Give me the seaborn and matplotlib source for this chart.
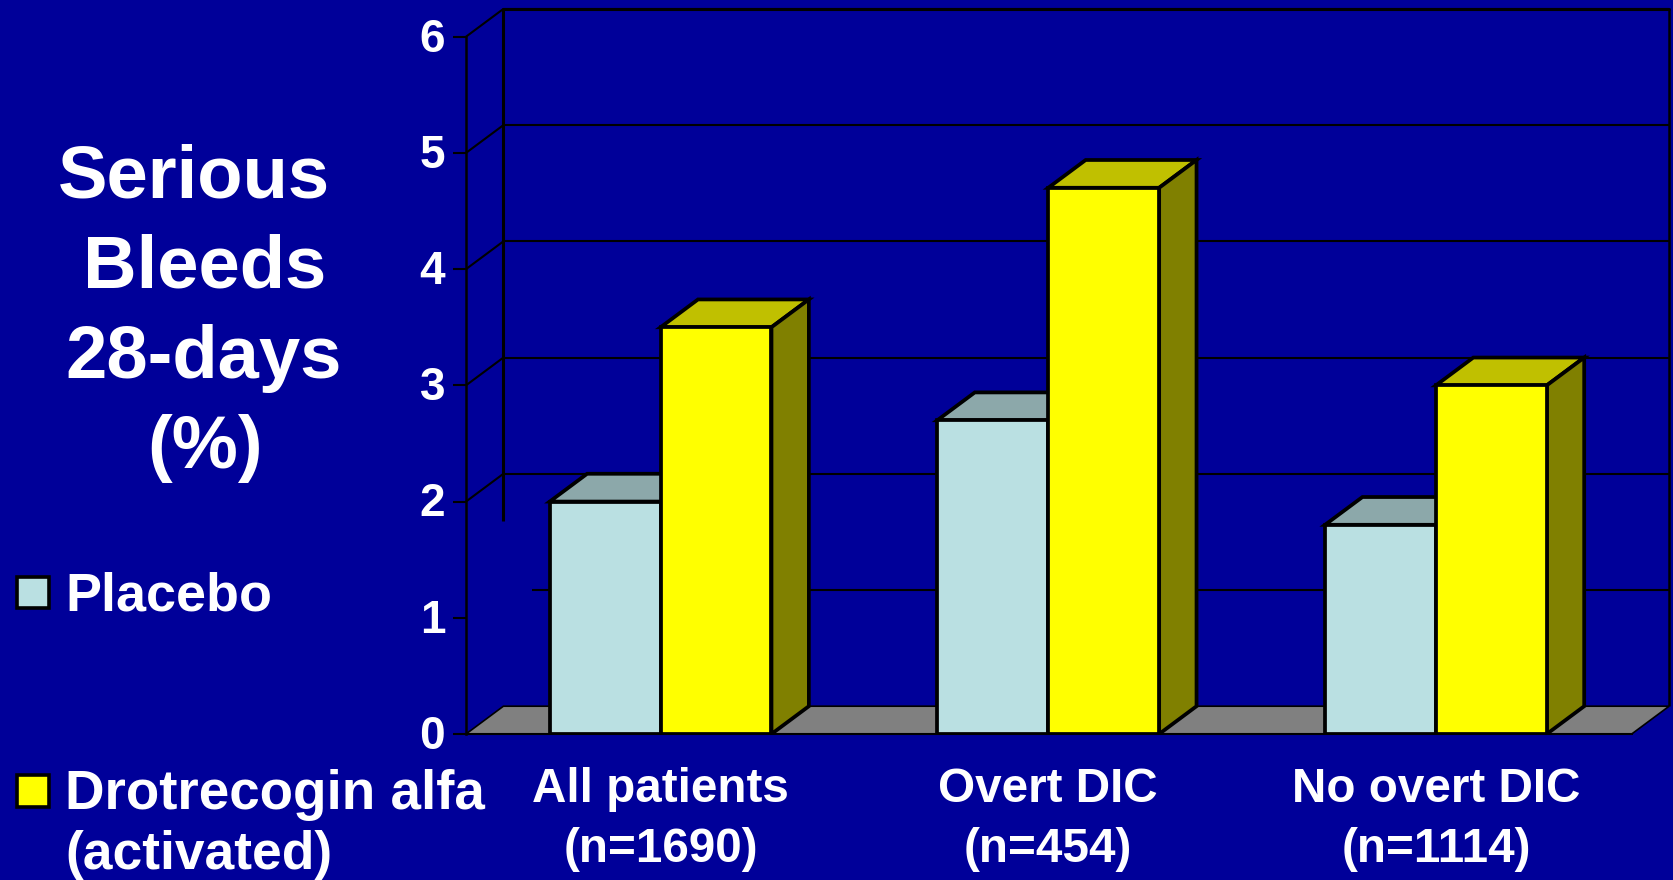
import matplotlib
matplotlib.use("Agg")
import matplotlib.pyplot as plt
from matplotlib.patches import Polygon, Rectangle
from matplotlib.transforms import ScaledTranslation
import pandas as pd
import seaborn as sns

# Chart values
groups = ["All patients\n(n=1690)", "Overt DIC\n(n=454)", "No overt DIC\n(n=1114)"]
placebo = [2.0, 2.7, 1.8]
drotrecogin = [3.5, 4.7, 3.0]
y_ticks = [0, 1, 2, 3, 4, 5, 6]
title_lines = ["Serious", "Bleeds", "28-days", "(%)"]
series_names = ["Placebo", "Drotrecogin alfa\n(activated)"]

# Colours
BG = "#000099"
FRONT = ["#BAE0E2", "#FFFF00"]
TOP = ["#8CA8AA", "#C0C000"]
SIDE = ["#5D7071", "#808000"]
FLOOR = "#808080"

W, H = 1674, 880
sns.set_theme(style="ticks")
plt.rcParams["font.family"] = ["Liberation Sans", "DejaVu Sans"]
plt.rcParams["font.weight"] = "bold"

fig = plt.figure(figsize=(W / 100, H / 100), dpi=100, facecolor=BG)


def fx(px):
    return px / W


def fy(py):
    return 1 - py / H


# Axes frame: front plane of the pseudo-3D box
left, right, top, bottom = 466, 1631.7, 36.7, 734
ax = fig.add_axes([fx(left), fy(bottom), (right - left) / W, (bottom - top) / H])
ax.set_facecolor("none")

df = pd.DataFrame({
    "group": groups * 2,
    "series": [series_names[0]] * 3 + [series_names[1]] * 3,
    "value": placebo + drotrecogin,
})
BAR_LW = 2.7
sns.barplot(data=df, x="group", y="value", hue="series", palette=FRONT,
            hue_order=series_names, order=groups, width=0.572, gap=0, dodge=True,
            saturation=1, edgecolor="black", linewidth=BAR_LW, legend=False, ax=ax)
ax.set_xlim(-0.502, 2.505)
ax.set_ylim(0, 6)
ax.set_xlabel("")
ax.set_ylabel("")

# Depth of the box in data units
x0, x1 = ax.get_xlim()
DX = 37.4 / ((right - left) / (x1 - x0))
DY = 27.8 / ((bottom - top) / 6)
grid_kw = dict(color="black", lw=1.5, clip_on=False, solid_capstyle="butt")

# Floor
ax.add_patch(Polygon([(x0, 0), (x1, 0), (x1 + DX, DY), (x0 + DX, DY)], closed=True,
                     facecolor=FLOOR, edgecolor="black", lw=1.2, clip_on=False, zorder=1))

# Back wall: gridlines, top edge, side struts. The lower part of the wall is left open.
open_until = 0.169
for v in y_ticks[1:]:
    start = x0 + DX
    if v == 1:
        start = x0 + open_until
    ax.plot([start, x1 + DX], [v + DY, v + DY], zorder=1, **grid_kw)
    if v >= 2:
        ax.plot([x0, x0 + DX], [v, v + DY], zorder=1, **grid_kw)
ax.plot([x0 + DX, x1 + DX], [6 + DY, 6 + DY], color="black", lw=2.2, clip_on=False, zorder=1)
ax.plot([x0 + DX, x0 + DX], [1.83, 6 + DY], color="black", lw=2.2, clip_on=False, zorder=1,
        solid_capstyle="butt")
ax.plot([x1 + DX, x1 + DX], [DY, 6 + DY], color="black", lw=1.8, clip_on=False, zorder=1,
        solid_capstyle="butt")

# Extrude each bar: top and right faces sit behind its front face
for i, container in enumerate(ax.containers):
    for bar in container:
        bx, bw, bh = bar.get_x(), bar.get_width(), bar.get_height()
        ax.add_patch(Polygon([(bx, bh), (bx + bw, bh), (bx + bw + DX, bh + DY), (bx + DX, bh + DY)],
                             closed=True, facecolor=TOP[i], edgecolor="black", lw=BAR_LW,
                             joinstyle="miter", zorder=3 + 2 * i))
        ax.add_patch(Polygon([(bx + bw, 0), (bx + bw + DX, DY), (bx + bw + DX, bh + DY), (bx + bw, bh)],
                             closed=True, facecolor=SIDE[i], edgecolor="black", lw=BAR_LW,
                             joinstyle="miter", zorder=3 + 2 * i))
        bar.set_zorder(4 + 2 * i)
        bar.set_joinstyle("miter")

# Axis styling
sns.despine(ax=ax, top=True, right=True, bottom=False, left=False)
ax.spines["left"].set_linewidth(1.8)
ax.spines["left"].set_color("black")
ax.spines["bottom"].set_linewidth(1.5)
ax.spines["bottom"].set_color("black")
ax.spines["bottom"].set_zorder(2)
ax.set_yticks(y_ticks)
ax.set_yticklabels([str(t) for t in y_ticks])
ax.tick_params(axis="y", length=9.5, width=1.5, color="black", pad=5.5,
               labelsize=33, labelcolor="white")
ax.tick_params(axis="x", length=0, pad=24, labelsize=34.3, labelcolor="white")
for lab in ax.get_xticklabels():
    lab.set_multialignment("center")
    lab.set_linespacing(1.43)
    lab.set_fontweight("bold")
lift = ScaledTranslation(0, 2.1 / 100, fig.dpi_scale_trans)
for lab in ax.get_yticklabels():
    lab.set_fontweight("bold")
    lab.set_transform(lab.get_transform() + lift)

# Left-hand title, one line at a time
title_x = [194, 205, 204, 205]
title_base = [197, 287, 378, 468]
for s, tx, ty in zip(title_lines, title_x, title_base):
    fig.text(fx(tx), fy(ty), s, color="white", fontsize=53.5, fontweight="bold",
             ha="center", va="baseline")

# Legend built by hand in the left margin
swatch_top = [576.5, 775]
for col, sy in zip(FRONT, swatch_top):
    fig.add_artist(Rectangle((fx(17.5), fy(sy + 31.5)), 32 / W, 31.5 / H, transform=fig.transFigure,
                             facecolor=col, edgecolor="black", lw=2.6))
fig.text(fx(65.5), fy(610.7), "Placebo", color="white", fontsize=38.8, fontweight="bold",
         ha="left", va="baseline")
fig.text(fx(65.5), fy(809), "Drotrecogin alfa", color="white", fontsize=39.4, fontweight="bold",
         ha="left", va="baseline")
fig.text(fx(65.5), fy(868.5), "(activated)", color="white", fontsize=38.4, fontweight="bold",
         ha="left", va="baseline")

fig.savefig("out.png", dpi=100, facecolor=BG)
